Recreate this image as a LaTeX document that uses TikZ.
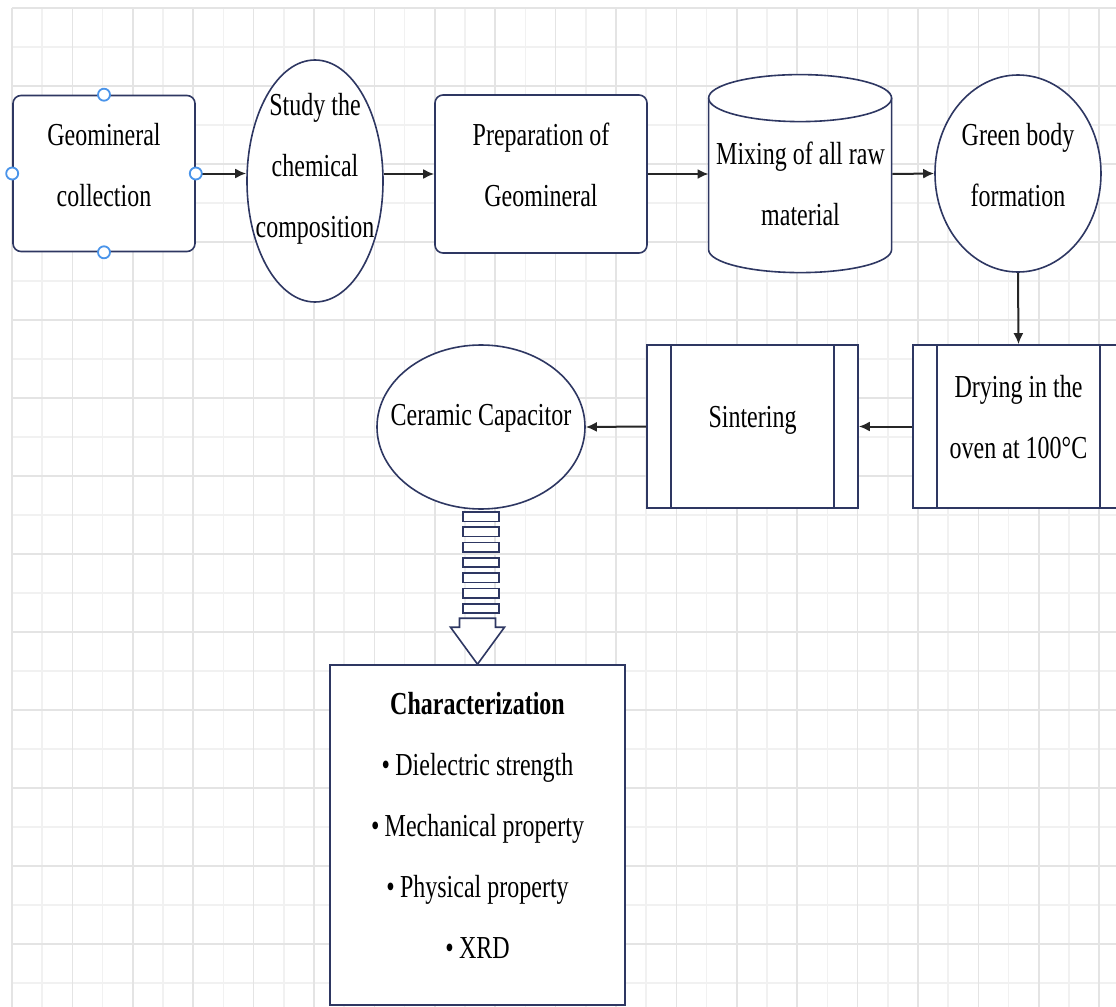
\documentclass[tikz,border=0pt]{standalone}
\usepackage{fontspec}
\setmainfont{Liberation Serif}[FakeStretch=0.75]
\usepackage{tikz}
\usetikzlibrary{arrows.meta, positioning, calc, shapes.geometric}
\definecolor{edgenavy}{HTML}{2E3762}
\definecolor{gridminor}{HTML}{F1F1F1}
\definecolor{gridmajor}{HTML}{E4E4E4}
\definecolor{handleblue}{HTML}{4A94EA}
\tikzset{
    shp/.style={draw=edgenavy, line width=0.8pt, fill=white},
    txt/.style={font=\fontsize{16}{30.5}\selectfont, text=black, align=center, inner sep=0pt},
    roundbox/.style={shp, txt, rectangle, rounded corners=4pt, minimum width=91pt, minimum height=78pt, text depth=9pt},
    oval/.style={shp, ellipse, inner sep=0pt},
    ppbox/.style={shp, txt, rectangle, minimum width=105.5pt, minimum height=81.5pt, text depth=10pt,
        path picture={
            \draw[edgenavy, line width=0.8pt] ([xshift=12pt]path picture bounding box.north west) -- ([xshift=12pt]path picture bounding box.south west);
            \draw[edgenavy, line width=0.8pt] ([xshift=-12pt]path picture bounding box.north east) -- ([xshift=-12pt]path picture bounding box.south east);
        }},
    arrow/.style={-{Latex[length=5.5pt, width=5pt]}, line width=1pt, draw=black!85},
    handle/.style={draw=handleblue, line width=0.9pt, fill=white}
}

\begin{document}
\begin{tikzpicture}[x=0.5pt, y=0.5pt]
    \useasboundingbox (0,0) rectangle (1116,-1007);
    \fill[white] (0,0) rectangle (1116,-1007);
    \clip (0,0) rectangle (1116,-1007);
    % grid paper
    \foreach \k in {1,3,...,35}
        \draw[gridminor, line width=0.8pt] (12+30.2*\k,-8) -- (12+30.2*\k,-1007);
    \foreach \k in {1,3,...,25}
        \draw[gridminor, line width=0.8pt] (12,-8-39*\k) -- (1116,-8-39*\k);
    \foreach \k in {0,2,...,36}
        \draw[gridmajor, line width=0.8pt] (12+30.2*\k,-8) -- (12+30.2*\k,-1007);
    \foreach \k in {0,2,...,24}
        \draw[gridmajor, line width=0.8pt] (12,-8-39*\k) -- (1116,-8-39*\k);

    % top row
    \node[roundbox] (geo) at (104,-173.5) {Geomineral\\collection};
    \node[oval, minimum width=68pt, minimum height=121pt] (study) at (315,-181) {};
    \node[txt] (study-t) at ($(study.center)+(0,12)$) {Study the\\chemical\\composition};
    \node[roundbox, minimum width=106pt, minimum height=79pt] (prep) at (541,-174) {Preparation of\\Geomineral};
    \node[inner sep=0pt, minimum width=91.5pt, minimum height=99pt] (mix) at (800.5,-174) {};
    \draw[shp] ($(mix.north west)+(0,-23.5)$) -- ++(0,-151.5)
        arc[start angle=180, end angle=360, x radius=91.5, y radius=23] -- ++(0,151.5)
        arc[start angle=0, end angle=180, x radius=91.5, y radius=23.5] -- cycle;
    \draw[shp, fill=none] ($(mix.north west)+(0,-23.5)$) arc[start angle=180, end angle=360, x radius=91.5, y radius=23.5];
    \node[txt] (mix-t) at ($(mix.center)+(0,-10)$) {Mixing of all raw\\material};
    \node[oval, minimum width=83pt, minimum height=98.5pt] (green) at (1018,-173.5) {};
    \node[txt] (green-t) at ($(green.center)+(0,8)$) {Green body\\formation};

    % middle row
    \node[ppbox] (dry) at (1018.5,-426.5) {Drying in the\\oven at 100°C};
    \node[ppbox] (sint) at (752.5,-426.5) {Sintering};
    \node[oval, minimum width=104pt, minimum height=82pt] (cap) at (481,-427) {};
    \node[txt] (cap-t) at ($(cap.center)+(0,9)$) {Ceramic Capacitor};

    \node[shp, txt, rectangle, minimum width=147.5pt, minimum height=170pt, text depth=10pt] (char) at (477.5,-835)
        {\textbf{Characterization}\\\textbullet\,Dielectric strength\\\textbullet\,Mechanical property\\\textbullet\,Physical property\\\textbullet\,XRD};

    \draw[arrow] (geo.east) -- (geo.east -| study.west);
    \draw[arrow] (prep.west -| study.east) -- (prep.west);
    \draw[arrow] (prep.east) -- (mix.west);
    \draw[arrow] (mix.east) -- (green.west);
    \draw[arrow] (green.south) -- (dry.north);
    \draw[arrow] (dry.west) -- (sint.east);
    \draw[arrow] (sint.west) -- (cap.east);

    % striped block arrow
    \foreach \i in {0,...,6}
        \draw[shp] ($(cap.south)+(-18,-2-15.33*\i)$) rectangle ++(36,-9.5);
    \draw[shp] ($(char.north)+(-18,46)$) -- ++(36,0) -- ++(0,-9) -- ++(9,0) -- (char.north) -- ++(-27,37) -- ++(9,0) -- cycle;

    \foreach \a in {north,south,east,west}
        \draw[handle] (geo.\a) circle (6);
\end{tikzpicture}
\end{document}
